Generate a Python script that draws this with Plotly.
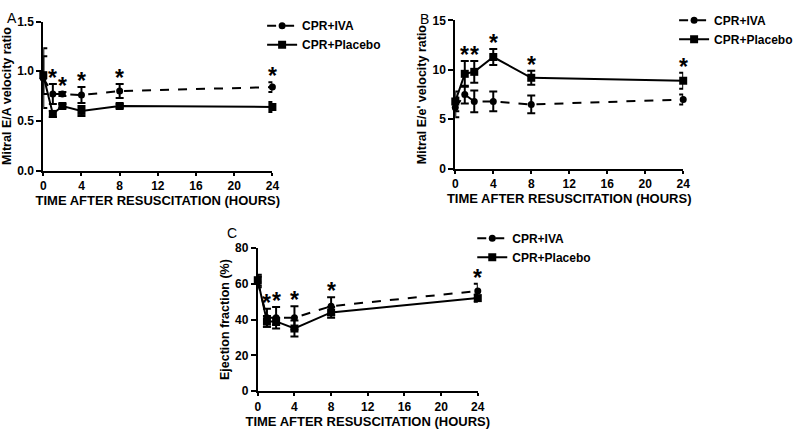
import plotly.graph_objects as go

# time points (hours after resuscitation)
hours = [0, 1, 2, 4, 8, 24]
star_hours = [1, 2, 4, 8, 24]

# A: mitral E/A velocity ratio
ea_iva = [0.93, 0.77, 0.77, 0.76, 0.80, 0.84]
ea_iva_err = [0.30, 0.10, 0.02, 0.08, 0.07, 0.05]
ea_pla = [0.96, 0.57, 0.65, 0.60, 0.65, 0.64]
ea_pla_err = [0.19, 0.03, 0.02, 0.05, 0.02, 0.05]

# B: mitral E/e' velocity ratio
ee_iva = [6.2, 7.5, 6.8, 6.8, 6.5, 7.0]
ee_iva_err = [1.0, 0.9, 1.1, 1.0, 0.9, 0.5]
ee_pla = [6.8, 9.6, 9.8, 11.3, 9.2, 8.9]
ee_pla_err = [1.0, 1.3, 1.1, 0.8, 0.7, 0.8]

# C: ejection fraction (%)
ef_iva = [61, 41, 41, 41, 47.5, 56]
ef_iva_err = [3, 5, 6, 6.5, 5, 4]
ef_pla = [62, 39, 39, 35, 44, 52]
ef_pla_err = [3, 3, 2, 4.5, 3, 2]

panels = [
    dict(name="A", iva=ea_iva, iva_err=ea_iva_err, pla=ea_pla, pla_err=ea_pla_err,
         ytitle="Mitral E/A velocity ratio", yrange=[0, 1.5], dtick=0.5, fmt=".1f",
         xdom=[0.051, 0.341], ydom=[0.6115, 0.9655], legend_xy=(0.328, 0.99), lab_xy=(0.002, 0.998)),
    dict(name="B", iva=ee_iva, iva_err=ee_iva_err, pla=ee_pla, pla_err=ee_pla_err,
         ytitle="Mitral E/e' velocity ratio", yrange=[0, 15], dtick=5, fmt="d",
         xdom=[0.5725, 0.861], ydom=[0.616, 0.968], legend_xy=(0.8495, 1.003), lab_xy=(0.525, 0.996)),
    dict(name="C", iva=ef_iva, iva_err=ef_iva_err, pla=ef_pla, pla_err=ef_pla_err,
         ytitle="Ejection fraction (%)", yrange=[0, 80], dtick=20, fmt="d",
         xdom=[0.3225, 0.601], ydom=[0.0874, 0.4276], legend_xy=(0.594, 0.485), lab_xy=(0.281, 0.488)),
]

FONT = "Liberation Sans"
fig = go.Figure()
layout = dict(width=800, height=435, margin=dict(l=0, r=0, t=0, b=0),
              paper_bgcolor="white", plot_bgcolor="white",
              font=dict(family=FONT, color="black"), annotations=[])

for i, p in enumerate(panels):
    n = "" if i == 0 else str(i + 1)
    xa, ya = "x" + n, "y" + n
    lg = "legend" + n
    fig.add_trace(go.Scatter(
        x=hours, y=p["iva"], name="CPR+IVA", xaxis=xa, yaxis=ya, legend=lg,
        mode="lines+markers", cliponaxis=False,
        line=dict(color="black", width=2, dash="dash"),
        marker=dict(symbol="circle", size=7, color="black"),
        error_y=dict(type="data", array=p["iva_err"], color="black", thickness=2, width=4)))
    fig.add_trace(go.Scatter(
        x=hours, y=p["pla"], name="CPR+Placebo", xaxis=xa, yaxis=ya, legend=lg,
        mode="lines+markers", cliponaxis=False,
        line=dict(color="black", width=2),
        marker=dict(symbol="square", size=8, color="black"),
        error_y=dict(type="data", array=p["pla_err"], color="black", thickness=2, width=4)))

    axis_common = dict(showline=True, linecolor="black", linewidth=2, ticks="outside",
                       tickwidth=2, tickcolor="black", showgrid=False, zeroline=False,
                       tickfont=dict(family=FONT, size=12, color="black", weight="bold"))
    layout["xaxis" + n] = dict(axis_common, domain=p["xdom"], anchor=ya, range=[0, 24],
                               tickvals=[0, 4, 8, 12, 16, 20, 24], ticklen=3,
                               title=dict(text="<b>TIME AFTER RESUSCITATION (HOURS)</b>",
                                          font=dict(size=13), standoff=0))
    layout["yaxis" + n] = dict(axis_common, domain=p["ydom"], anchor=xa, range=p["yrange"],
                               dtick=p["dtick"], tickformat=p["fmt"], ticklen=5,
                               title=dict(text="<b>" + p["ytitle"] + "</b>",
                                          font=dict(size=12.5), standoff=3))
    layout[lg] = dict(x=p["legend_xy"][0], y=p["legend_xy"][1], xanchor="left", yanchor="top",
                      bgcolor="rgba(0,0,0,0)", itemwidth=30, tracegroupgap=2,
                      font=dict(family=FONT, size=12, weight="bold"))
    layout["annotations"].append(dict(
        text=p["name"], x=p["lab_xy"][0], y=p["lab_xy"][1], xref="paper", yref="paper",
        xanchor="left", yanchor="top", showarrow=False, font=dict(size=14)))

    for h in star_hours:
        k = hours.index(h)
        top = max(p["iva"][k] + p["iva_err"][k], p["pla"][k] + p["pla_err"][k])
        layout["annotations"].append(dict(
            text="<b>*</b>", x=h, y=top, xref=xa, yref=ya, showarrow=False,
            yanchor="bottom", yshift=-9, font=dict(size=23)))

fig.update_layout(**layout)
fig.write_html("out.html", config={"displayModeBar": False},
               post_script="document.body.style.margin='0';")
